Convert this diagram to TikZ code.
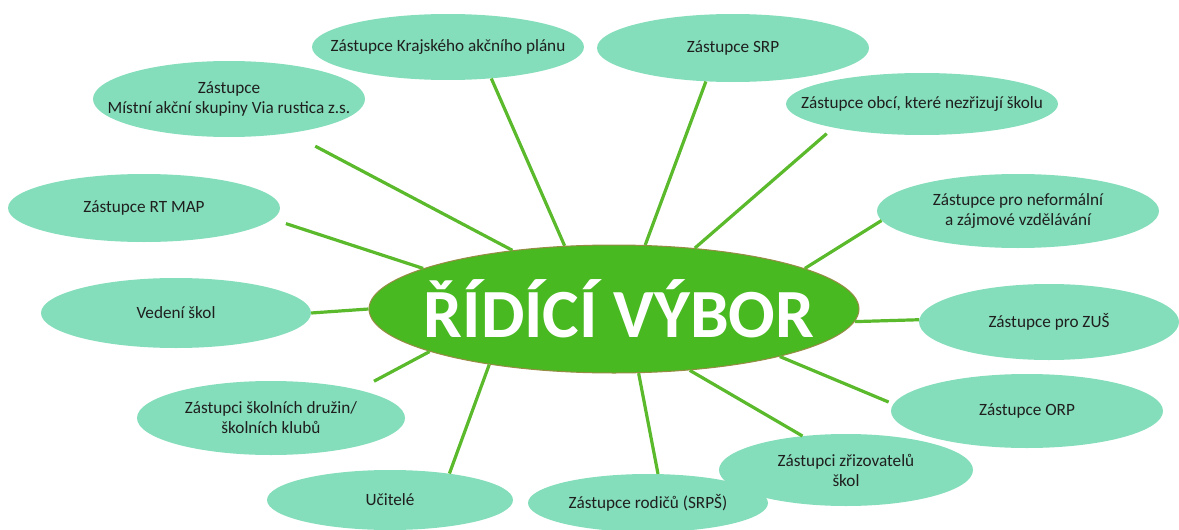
\documentclass[tikz,border=0pt]{standalone}
\usepackage{fontspec}
\setmainfont{Carlito}
\usetikzlibrary{shapes.geometric}
\definecolor{vyborgreen}{RGB}{72,185,32}
\definecolor{linegreen}{RGB}{90,186,44}
\definecolor{mint}{RGB}{132,221,187}
\definecolor{olive}{RGB}{150,140,70}
\tikzset{
  %define style for the central ellipse
  vybor/.style={
    ellipse,
    draw=olive, line width=1pt,
    fill=vyborgreen,
    inner sep=0pt,
    minimum width=490pt,
    minimum height=128pt},
  titul/.style={
    text=white,
    xshift=5pt,
    font=\fontsize{69}{71}\selectfont\bfseries},
  %define style for members
  clen/.style={
    ellipse,
    fill=mint,
    inner sep=0pt,
    minimum width=272pt,
    minimum height=72pt},
  every label/.style={
    align=center,
    text=black!88,
    font=\fontsize{17.2}{20}\selectfont},
  %define style for lines
  myline/.style={
    draw=linegreen,
    line width=3.2pt}
}
\begin{document}
\begin{tikzpicture}[x=1pt, y=-1pt]
\useasboundingbox (0,0) rectangle (1179,530);
%nodes
\node[vybor, label={[titul]center:ŘÍDÍCÍ VÝBOR}] (vybor) at (614,309) {};

\node[clen, minimum width=272pt, minimum height=66pt,
      label={center:Zástupce Krajského akčního plánu}] (KAP) at (448,47) {};
\node[clen, minimum height=68pt,
      label={center:Zástupce SRP}] (SRP) at (733,48) {};
\node[clen, minimum height=62pt,
      label={center:Zástupce obcí, které nezřizují školu}] (OBCE) at (922,104) {};
\node[clen, minimum width=282pt, minimum height=74pt,
      label={center:Zástupce pro neformální\\a zájmové vzdělávání}] (NEF) at (1018,211) {};
\node[clen, minimum width=260pt, minimum height=76pt,
      label={center:Zástupce pro ZUŠ}] (ZUS) at (1049,322) {};
\node[clen, minimum height=74pt,
      label={center:Zástupce ORP}] (ORP) at (1027,411) {};
\node[clen, minimum width=254pt,
      label={center:Zástupci zřizovatelů\\škol}] (ZRIZ) at (846,470) {};
\node[clen, minimum width=240pt, minimum height=58pt,
      label={center:Zástupce rodičů (SRPŠ)}] (SRPS) at (648,503) {};
\node[clen, minimum width=246pt, minimum height=60pt,
      label={center:Učitelé}] (UCIT) at (390,500) {};
\node[clen, minimum width=268pt, minimum height=74pt,
      label={center:Zástupci školních družin/\\školních klubů}] (DRUZ) at (271,418) {};
\node[clen, minimum width=270pt, minimum height=70pt,
      label={center:Vedení škol}] (VED) at (176,313) {};
\node[clen, minimum width=272pt, minimum height=68pt,
      label={center:Zástupce RT MAP}] (RTMAP) at (144,208) {};
\node[clen, minimum height=76pt,
      label={center:Zástupce\\Místní akční skupiny Via rustica z.s.}] (MAS) at (229,99) {};

%lines
\draw[myline] (vybor.128) -- (KAP.-36);
\draw[myline] (vybor.64) -- (SRP.-129);
\draw[myline, shorten >=9pt] (vybor.37) -- (OBCE.-165);
\draw[myline] (vybor.12) -- (NEF.-176);
\draw[myline] (vybor.-3) -- (ZUS.179);
\draw[myline, shorten >=5pt] (vybor.-16) -- (ORP.177);
\draw[myline] (vybor.-39) -- (ZRIZ.142);
\draw[myline] (vybor.-69) -- (SRPS.71);
\draw[myline] (vybor.204) -- (UCIT.24);
\draw[myline, shorten >=18pt] (vybor.193) -- (DRUZ.18);
\draw[myline] (vybor.180) -- (VED.east);
\draw[myline, shorten >=14pt] (vybor.168) -- (RTMAP.-5);
\draw[myline, shorten >=28pt] (vybor.150) -- (MAS.-29);

\end{tikzpicture}
\end{document}
